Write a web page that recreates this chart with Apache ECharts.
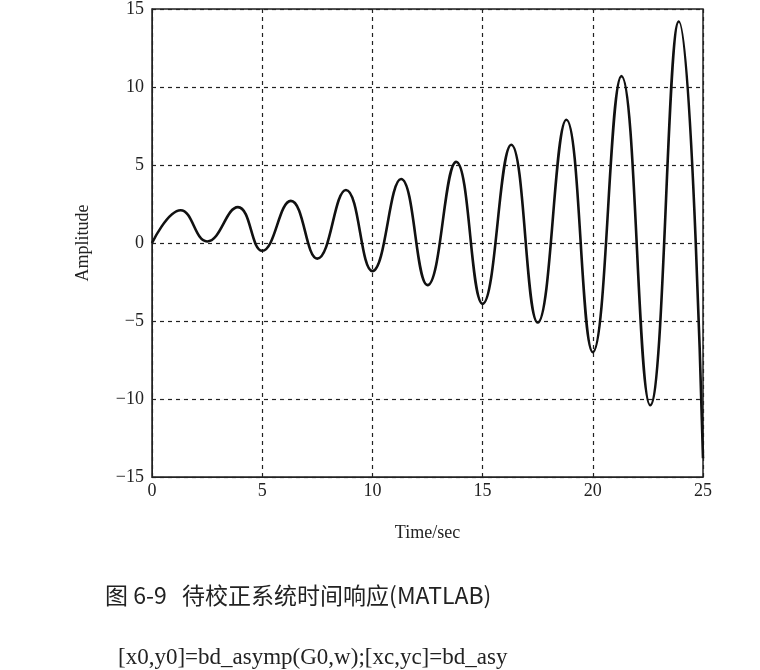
<!DOCTYPE html>
<html><head><meta charset="utf-8">
<script src="https://cdn.jsdelivr.net/npm/echarts@6/dist/echarts.min.js"></script>
<style>html,body{margin:0;background:#fff}#c{width:760px;height:670px}</style>
</head><body><div id="c"></div>
<script>
// peaks and troughs
var timeSec = [0, 1.3, 2.5, 3.9, 5.0, 6.3, 7.5, 8.8, 10.0, 11.3, 12.5, 13.8, 15.0, 16.3, 17.5, 18.8, 20.0, 21.3, 22.6, 23.9, 25.0];
var amplitude = [0, 2.1, 0.1, 2.3, -0.5, 2.7, -1.0, 3.4, -1.8, 4.1, -2.7, 5.2, -3.9, 6.3, -5.1, 7.9, -7.0, 10.7, -10.4, 14.2, -13.8];
var xTicks = [0, 5, 10, 15, 20, 25];
var yTicks = [-15, -10, -5, 0, 5, 10, 15];

var serif = 'Liberation Serif';
var chart = echarts.init(document.getElementById('c'));
var pts = timeSec.map(function (t, i) { return [t, amplitude[i]]; });
var dashed = {show: true, lineStyle: {color: '#222', type: [4, 4], width: 1.2}};
chart.setOption({
    animation: false,
    grid: {left: 152, right: 57, top: -1, bottom: 193, show: true, borderColor: '#222', borderWidth: 1.5},
    xAxis: {
        type: 'value', min: xTicks[0], max: xTicks[xTicks.length - 1], interval: 5,
        axisLine: {onZero: false, lineStyle: {color: '#222'}}, axisTick: {show: false},
        axisLabel: {color: '#222', fontFamily: serif, fontSize: 18, margin: 5},
        splitLine: dashed,
        name: 'Time/sec', nameLocation: 'middle', nameGap: 47,
        nameTextStyle: {color: '#222', fontFamily: serif, fontSize: 18}
    },
    yAxis: {
        type: 'value', min: yTicks[0], max: yTicks[yTicks.length - 1], interval: 5,
        axisLine: {lineStyle: {color: '#222'}}, axisTick: {show: false},
        axisLabel: {color: '#222', fontFamily: serif, fontSize: 18, margin: 8,
            formatter: function (v) { return v < 0 ? '\u2212' + (-v) : v; }},
        splitLine: dashed,
        name: 'Amplitude', nameLocation: 'middle', nameGap: 60,
        nameTextStyle: {color: '#222', fontFamily: serif, fontSize: 18}
    },
    series: [{
        type: 'line', data: pts, smooth: 0.45, showSymbol: false,
        lineStyle: {color: '#111', width: 2.6}
    }],
    graphic: [
        {type: 'text', left: 105, top: 584, style: {text: '图 6-9   待校正系统时间响应(MATLAB)', font: '23px "Noto Sans CJK SC", "Liberation Serif"', fill: '#222'}},
        {type: 'text', left: 118, top: 646, style: {text: '[x0,y0]=bd_asymp(G0,w);[xc,yc]=bd_asy', font: '23px "Liberation Serif"', fill: '#222'}}
    ]
});
</script></body></html>
